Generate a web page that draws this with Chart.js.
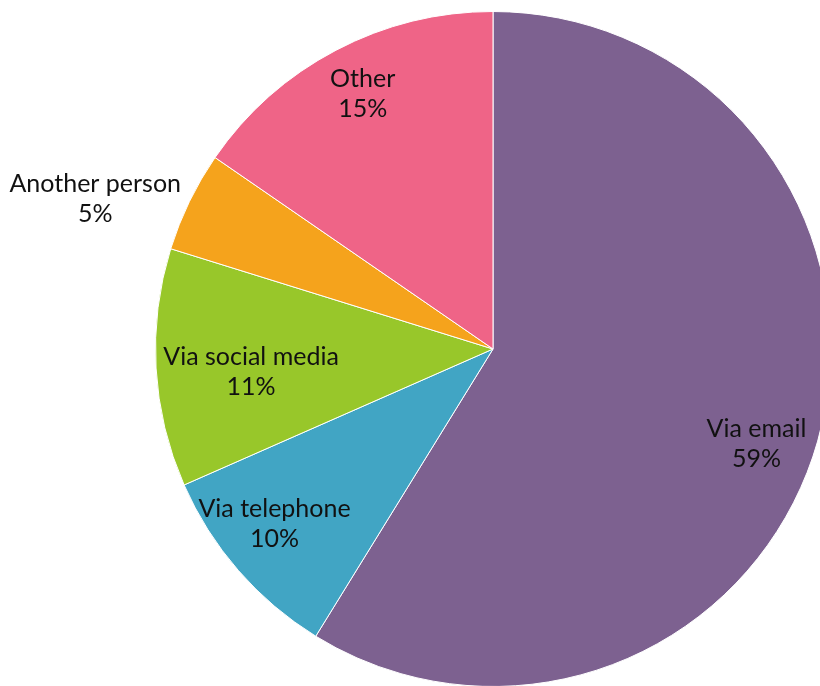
<!DOCTYPE html>
<html>
<head>
<meta charset="utf-8">
<script src="https://cdn.jsdelivr.net/npm/chart.js@4/dist/chart.umd.min.js"></script>
<style>
  html, body { margin: 0; padding: 0; background: #fff; overflow: hidden; }
  #wrap { width: 820px; height: 686px; overflow: hidden; position: relative; }
  canvas { position: absolute; left: 0; top: 0; }
</style>
</head>
<body>
<div id="wrap">
  <canvas id="pie" width="986" height="698"></canvas>
</div>
<script>
// chart data (shares, labels show them rounded)
const categories = ['Via email', 'Via telephone', 'Via social media', 'Another person', 'Other'];
const shares = [58.8, 9.6, 11.4, 4.8, 15.4];
const sliceColors = ['#7D6190', '#41A5C4', '#98C72A', '#F5A31C', '#EF6487'];

// how far out each label sits (fraction of radius) and a small angle nudge in degrees
const labelPlacement = [
    { r: 0.83, nudge: 4 },
    { r: 0.83, nudge: 2.3 },
    { r: 0.72, nudge: -2.1 },
    { r: 1.26, nudge: -5.2 },
    { r: 0.85, nudge: 0.7 }
];

// draws "name / value%" for each slice
const sliceLabels = {
    id: 'sliceLabels',
    afterDatasetsDraw(chart) {
        const ctx = chart.ctx;
        const meta = chart.getDatasetMeta(0);
        ctx.save();
        ctx.font = '25px Lato, "Open Sans", sans-serif';
        ctx.fillStyle = '#111';
        ctx.textAlign = 'center';
        ctx.textBaseline = 'middle';
        meta.data.forEach((arc, i) => {
            const p = arc.getProps(['x', 'y', 'startAngle', 'endAngle', 'outerRadius'], true);
            const mid = (p.startAngle + p.endAngle) / 2 + labelPlacement[i].nudge * Math.PI / 180;
            const dist = p.outerRadius * labelPlacement[i].r;
            const cx = p.x + Math.cos(mid) * dist;
            const cy = p.y + Math.sin(mid) * dist;
            ctx.fillText(categories[i], cx, cy - 15);
            ctx.fillText(Math.round(shares[i]) + '%', cx, cy + 15);
        });
        ctx.restore();
    }
};

new Chart(document.getElementById('pie').getContext('2d'), {
    type: 'pie',
    data: {
        labels: categories,
        datasets: [{
            data: shares,
            backgroundColor: sliceColors,
            borderColor: '#ffffff',
            borderWidth: 1
        }]
    },
    options: {
        responsive: false,
        animation: false,
        layout: { padding: 11 },
        plugins: {
            legend: { display: false },
            tooltip: { enabled: false }
        }
    },
    plugins: [sliceLabels]
});
</script>
</body>
</html>
